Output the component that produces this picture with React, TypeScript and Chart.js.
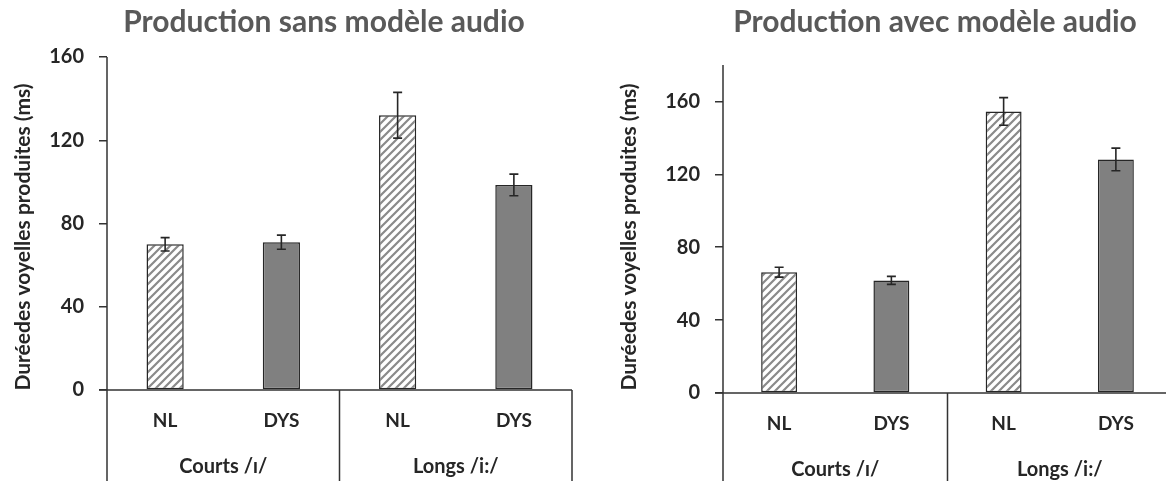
import React, { useEffect, useRef } from 'react';
import { Chart, registerables } from 'chart.js';
Chart.register(...registerables);

const categories = ['NL', 'DYS', 'NL', 'DYS'];
const groups = ['Courts /ɪ/', 'Longs /i:/'];
const sansMeans = [70, 71, 132, 98.5];
const sansErrors = [3.2, 3.4, 11, 5.2];
const avecMeans = [66.3, 61.8, 154.5, 128.2];
const avecErrors = [2.7, 2.2, 7.6, 6.2];
const titleSans = 'Production sans modèle audio';
const titleAvec = 'Production avec modèle audio';
const yTitle = 'Duréedes voyelles produites (ms)';

const FONT = 'Lato, "Open Sans", sans-serif';
const DARK = '#262626';

function makeHatch(): CanvasPattern | string {
  const c = document.createElement('canvas');
  c.width = 8; c.height = 8;
  const g = c.getContext('2d');
  if (!g) return '#ccc';
  g.fillStyle = '#fff'; g.fillRect(0, 0, 8, 8);
  g.strokeStyle = '#8a8a8a'; g.lineWidth = 2.2;
  g.beginPath();
  g.moveTo(-2, 10); g.lineTo(10, -2);
  g.moveTo(-2, 2); g.lineTo(2, -2);
  g.moveTo(6, 10); g.lineTo(10, 6);
  g.stroke();
  return g.createPattern(c, 'repeat') || '#ccc';
}

type PanelProps = {
  means: number[]; errors: number[]; title: string; yMax: number;
  left: number; width: number; padTop: number; padRight: number;
  yAxisWidth: number; xAxisHeight: number; titleX: number; yTitleX: number;
};

function Panel(p: PanelProps) {
  const ref = useRef<HTMLCanvasElement>(null);
  useEffect(() => {
    if (!ref.current) return;
    const hatch = makeHatch();
    const fills = categories.map((c) => (c === 'NL' ? hatch : '#808080'));
    const decor = {
      id: 'decor',
      afterDatasetsDraw(chart: any) {
        const ctx = chart.ctx;
        const xs = chart.scales.x; const ys = chart.scales.y;
        const area = chart.chartArea;
        ctx.save();
        // error bars
        const meta = chart.getDatasetMeta(0);
        ctx.strokeStyle = DARK; ctx.lineWidth = 1.6;
        meta.data.forEach((bar: any, i: number) => {
          const top = ys.getPixelForValue(p.means[i] + p.errors[i]);
          const bot = ys.getPixelForValue(p.means[i] - p.errors[i]);
          ctx.beginPath();
          ctx.moveTo(bar.x, top); ctx.lineTo(bar.x, bot);
          ctx.moveTo(bar.x - 4.5, top); ctx.lineTo(bar.x + 4.5, top);
          ctx.moveTo(bar.x - 4.5, bot); ctx.lineTo(bar.x + 4.5, bot);
          ctx.stroke();
        });
        // frame
        const y0 = ys.getPixelForValue(0);
        const step = xs.getPixelForValue(1) - xs.getPixelForValue(0);
        const sep = (xs.getPixelForValue(1) + xs.getPixelForValue(2)) / 2;
        const rightEdge = xs.getPixelForValue(3) + step / 2;
        const bottom = 481;
        ctx.lineWidth = 1.5; ctx.strokeStyle = '#333';
        ctx.beginPath();
        ctx.moveTo(area.left - 8, y0); ctx.lineTo(rightEdge, y0);
        ctx.moveTo(area.left, area.top); ctx.lineTo(area.left, bottom);
        ctx.moveTo(sep, y0); ctx.lineTo(sep, bottom);
        ctx.moveTo(rightEdge, y0); ctx.lineTo(rightEdge, bottom);
        ctx.stroke();
        // category labels
        ctx.fillStyle = DARK;
        ctx.textAlign = 'center'; ctx.textBaseline = 'middle';
        ctx.font = `bold 19px ${FONT}`;
        categories.forEach((c, i) => ctx.fillText(c, xs.getPixelForValue(i), y0 + 31));
        ctx.font = `bold 20px ${FONT}`;
        groups.forEach((g, gi) => {
          const cx = (xs.getPixelForValue(gi * 2) + xs.getPixelForValue(gi * 2 + 1)) / 2;
          ctx.fillText(g, cx, y0 + 77);
        });
        // title
        ctx.fillStyle = '#595959';
        ctx.textBaseline = 'alphabetic';
        ctx.font = `bold 30px ${FONT}`;
        ctx.fillText(p.title, p.titleX, 32);
        // y title
        ctx.fillStyle = DARK;
        ctx.translate(p.yTitleX, 237);
        ctx.rotate(-Math.PI / 2);
        ctx.textBaseline = 'middle';
        ctx.font = `bold 21px ${FONT}`;
        ctx.fillText(yTitle, 0, 0);
        ctx.restore();
      },
    };
    const chart = new Chart(ref.current, {
      type: 'bar',
      data: {
        labels: categories,
        datasets: [{
          data: p.means,
          backgroundColor: fills as any,
          borderColor: DARK,
          borderWidth: 1.5,
          borderSkipped: false,
          categoryPercentage: 1,
          barPercentage: 0.32,
        }],
      },
      options: {
        animation: false,
        responsive: false,
        devicePixelRatio: 1,
        layout: { padding: { top: p.padTop, right: p.padRight, left: 0, bottom: 0 } },
        plugins: { legend: { display: false }, tooltip: { enabled: false }, title: { display: false } },
        scales: {
          x: {
            grid: { display: false },
            border: { display: false },
            ticks: { display: false },
            afterFit: (s: any) => { s.height = p.xAxisHeight; },
          },
          y: {
            min: 0, max: p.yMax,
            grid: { drawOnChartArea: false, drawTicks: true, tickLength: 8, color: '#333', lineWidth: 1.5 },
            border: { display: false },
            ticks: { stepSize: 40, includeBounds: false, padding: 15, color: DARK, font: { family: FONT, size: 20, weight: 'bold' } },
            afterFit: (s: any) => { s.width = p.yAxisWidth; },
          },
        },
      },
      plugins: [decor],
    } as any);
    return () => chart.destroy();
  }, []);
  return (
    <canvas ref={ref} width={p.width} height={483}
      style={{ position: 'absolute', left: p.left, top: 0, width: p.width, height: 483 }} />
  );
}

export default function App() {
  return (
    <div style={{ position: 'fixed', left: 0, top: 0, width: 1166, height: 483, overflow: 'hidden', background: '#fff' }}>
      <Panel means={sansMeans} errors={sansErrors} title={titleSans} yMax={160}
        left={0} width={580} padTop={57} padRight={8} yAxisWidth={107} xAxisHeight={93}
        titleX={324} yTitleX={23} />
      <Panel means={avecMeans} errors={avecErrors} title={titleAvec} yMax={180}
        left={590} width={600} padTop={65} padRight={18} yAxisWidth={133} xAxisHeight={90}
        titleX={345} yTitleX={39} />
    </div>
  );
}
